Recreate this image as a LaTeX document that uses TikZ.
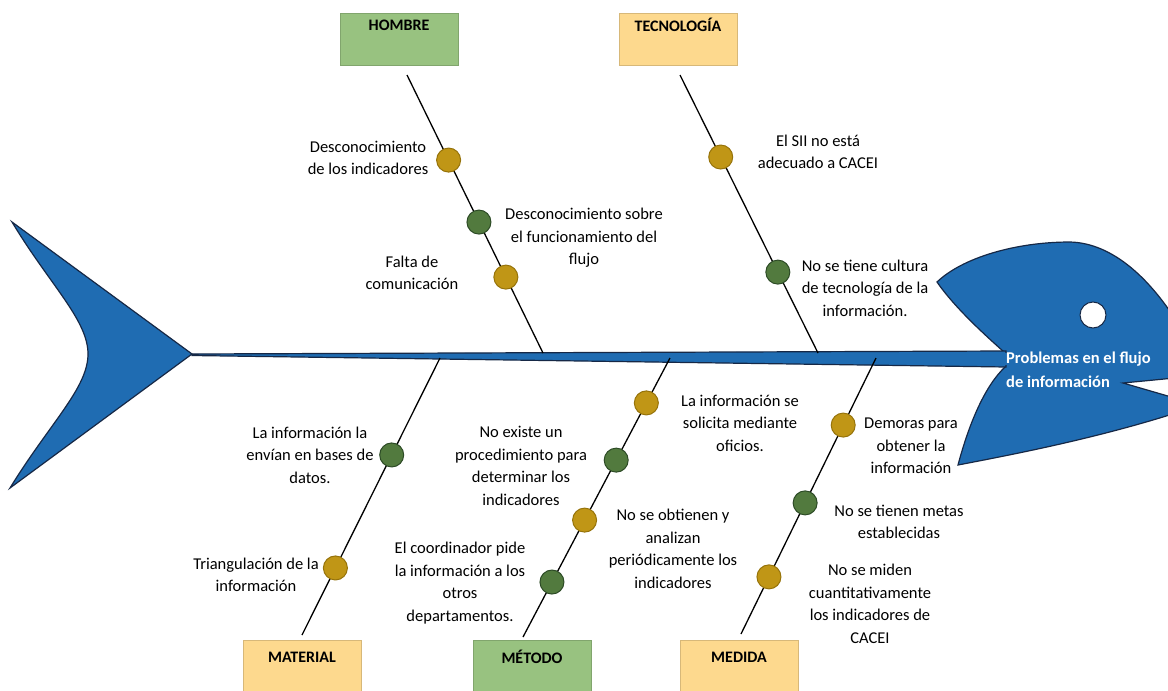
\documentclass[tikz,border=0pt]{standalone}
\usepackage{fontspec}
\setmainfont{Carlito}
\definecolor{fishblue}{RGB}{31,108,178}
\definecolor{fishline}{RGB}{22,40,70}
\definecolor{gold}{RGB}{192,150,22}
\definecolor{goldline}{RGB}{150,115,10}
\definecolor{dgreen}{RGB}{82,122,62}
\definecolor{greenline}{RGB}{45,75,38}
\definecolor{boxgreen}{RGB}{152,194,128}
\definecolor{boxyellow}{RGB}{253,217,142}
\begin{document}
\begin{tikzpicture}[x=1pt,y=-1pt,
  bone/.style={draw=black, line width=1.3pt},
  ydot/.style={circle, minimum size=24pt, inner sep=0pt, fill=gold, draw=goldline, line width=1pt},
  gdot/.style={circle, minimum size=24pt, inner sep=0pt, fill=dgreen, draw=greenline, line width=1pt},
  txt/.style={align=center, inner sep=0pt, font=\fontsize{16.5}{22.5}\selectfont},
  catbox/.style={minimum width=118pt, minimum height=52pt, inner sep=0pt, anchor=north west, line width=0.6pt},
  catlabel/.style={font=\fontsize{16}{19}\selectfont\bfseries, inner sep=0pt},
  fish/.style={fill=fishblue, draw=fishline, line width=1.2pt},
  headtxt/.style={align=left, inner sep=0pt, text=white, font=\fontsize{16.5}{24}\selectfont\bfseries}]
\useasboundingbox (0,0) rectangle (1168,691);
\fill[white] (0,0) rectangle (1168,691);
\begin{scope}
\clip (0,0) rectangle (1168,691);

% category boxes
\node[catbox, fill=boxgreen, draw=boxgreen!85!black] (hombre) at (340,13) {};
\node[catlabel] (hombreL) at (399,25) {HOMBRE};
\node[catbox, fill=boxyellow, draw=boxyellow!85!black] (tecno) at (619,13) {};
\node[catlabel] (tecnoL) at (678,25) {TECNOLOGÍA};
\node[catbox, fill=boxyellow, draw=boxyellow!85!black, minimum height=70pt] (material) at (243,640) {};
\node[catlabel] (materialL) at (302,657) {MATERIAL};
\node[catbox, fill=boxgreen, draw=boxgreen!85!black, minimum height=70pt] (metodo) at (473,640) {};
\node[catlabel] (metodoL) at (532,657) {MÉTODO};
\node[catbox, fill=boxyellow, draw=boxyellow!85!black, minimum height=70pt] (medida) at (680,640) {};
\node[catlabel] (medidaL) at (739,657) {MEDIDA};

% tail
\path[fish] (12,222) -- (192,354) -- (10,488) .. controls (50,423) and (88,388) .. (88,354) .. controls (88,320) and (50,285) .. (12,222) -- cycle;

% head
\path[fish] (1004,352) .. controls (985,335) and (955,308) .. (937,282)
  .. controls (962,258) and (1015,242) .. (1070,242)
  .. controls (1112,243) and (1152,278) .. (1185,335)
  -- (1185,377) -- (1123,383) -- (1185,401) -- (1185,410)
  .. controls (1100,438) and (1010,455) .. (958,465)
  .. controls (970,420) and (986,385) .. (1005,367) -- cycle;
\fill[white, draw=fishline, line width=1pt] (1093,315) circle (13);

% spine
\coordinate (tailtip) at (192,354);
\coordinate (headjoin) at (1006,359);
\path[fish] (tailtip) -- (1006,351) -- (1006,367) -- (192,355.5) -- cycle;
\fill[fishblue] (1000,353.2) rectangle (1012,365);

\node[headtxt, anchor=west] (problem) at (1006,370) {Problemas en el flujo\\de información};

% bones
\coordinate (hA) at (407,75);  \coordinate (hB) at (543,353);
\coordinate (tA) at (680,75);  \coordinate (tB) at (818,353);
\coordinate (maA) at (440,358); \coordinate (maB) at (302,635);
\coordinate (meA) at (670,358); \coordinate (meB) at (523,637);
\coordinate (mdA) at (876,358); \coordinate (mdB) at (741,634);

\draw[bone] (hA) -- (hB)
  node[ydot,pos=0.306] (h1) {} node[gdot,pos=0.529] (h2) {} node[ydot,pos=0.727] (h3) {};
\draw[bone] (tA) -- (tB)
  node[ydot,pos=0.295] (t1) {} node[gdot,pos=0.709] (t2) {};
\draw[bone] (maA) -- (maB)
  node[gdot,pos=0.350] (ma1) {} node[ydot,pos=0.758] (ma2) {};
\draw[bone] (meA) -- (meB)
  node[ydot,pos=0.161] (me1) {} node[gdot,pos=0.366] (me2) {}
  node[ydot,pos=0.581] (me3) {} node[gdot,pos=0.803] (me4) {};
\draw[bone] (mdA) -- (mdB)
  node[ydot,pos=0.243] (md1) {} node[gdot,pos=0.525] (md2) {} node[ydot,pos=0.793] (md3) {};

% texts
\node[txt] (th1) at (368,158) {Desconocimiento\\de los indicadores};
\node[txt] (th2) at (584,238) {Desconocimiento sobre\\el funcionamiento del\\flujo};
\node[txt] (th3) at (412,273) {Falta de\\comunicación};
\node[txt] (tt1) at (818,152) {El SII no está\\adecuado a CACEI};
\node[txt] (tt2) at (865,288) {No se tiene cultura\\de tecnología de la\\información.};
\node[txt] (tma1) at (310,455) {La información la\\envían en bases de\\datos.};
\node[txt] (tma2) at (256,575) {Triangulación de la\\información};
\node[txt] (tme1) at (740,423) {La información se\\solicita mediante\\oficios.};
\node[txt] (tme2) at (521,466) {No existe un\\procedimiento para\\determinar los\\indicadores};
\node[txt] (tme3) at (673,549) {No se obtienen y\\analizan\\periódicamente los\\indicadores};
\node[txt] (tme4) at (460,583) {El coordinador pide\\la información a los\\otros\\departamentos.};
\node[txt] (tmd1) at (911,446) {Demoras para\\obtener la\\información};
\node[txt] (tmd2) at (899,522) {No se tienen metas\\establecidas};
\node[txt] (tmd3) at (870,604) {No se miden\\cuantitativamente\\los indicadores de\\CACEI};
\end{scope}
\end{tikzpicture}
\end{document}
